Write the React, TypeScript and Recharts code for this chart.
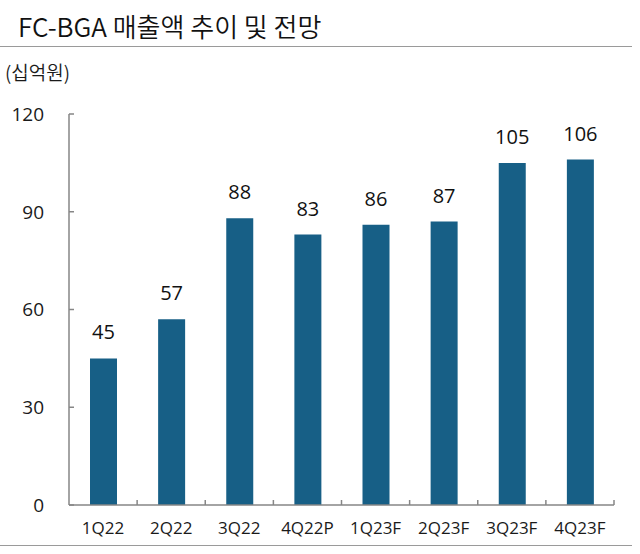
import React from 'react';
import { BarChart, Bar, XAxis, YAxis, LabelList } from 'recharts';

const categories = ['1Q22', '2Q22', '3Q22', '4Q22P', '1Q23F', '2Q23F', '3Q23F', '4Q23F'];
const sales = [45, 57, 88, 83, 86, 87, 105, 106];
const yTicks = [0, 30, 60, 90, 120];
const title = 'FC-BGA 매출액 추이 및 전망';
const unit = '(십억원)';

const data = categories.map((q, i) => ({ q, v: sales[i] }));

const FONT = '"Noto Sans CJK KR", "Noto Sans", sans-serif';
const NUM_FONT = '"Open Sans", "Noto Sans CJK KR", sans-serif';
const W = 640;
const H = 554;
const X_H = 49;
const M = { top: 114, right: 26, bottom: 0, left: 0 };
const Y_W = 69;
const AXIS_COLOR = '#868686';
const BAR_COLOR = '#175f86';
const halfBand = (W - M.left - M.right - Y_W) / categories.length / 2;

const YTick = (props: any) => {
  const { y, payload } = props;
  return (
    <g>
      <line x1={Y_W} x2={Y_W + 5} y1={y} y2={y} stroke={AXIS_COLOR} strokeWidth={1.5} />
      <text x={44} y={y} dy="0.36em" textAnchor="end" fontSize={19} fill="#1a1a1a" fontFamily={NUM_FONT}>
        {payload.value}
      </text>
    </g>
  );
};

const XTick = (props: any) => {
  const { x, payload } = props;
  const axisY = H - X_H;
  return (
    <g>
      <line x1={x + halfBand} x2={x + halfBand} y1={axisY} y2={axisY - 5} stroke={AXIS_COLOR} strokeWidth={1.5} />
      <text x={x} y={axisY + 29} textAnchor="middle" fontSize={17} fill="#1a1a1a" fontFamily={NUM_FONT}>
        {payload.value}
      </text>
    </g>
  );
};

export default function App() {
  return (
    <div style={{ position: 'absolute', left: 0, top: 0, width: W, height: H, background: '#fff', fontFamily: FONT }}>
      <div style={{ position: 'absolute', left: 18, top: 8, fontSize: 26, fontWeight: 350, color: '#111', whiteSpace: 'nowrap', lineHeight: '36px' }}>
        {title}
      </div>
      <div style={{ position: 'absolute', left: 0, top: 46, width: 632, height: 0, borderTop: '1.5px solid #9a9a9a' }} />
      <div style={{ position: 'absolute', left: 5, top: 59, fontSize: 19, fontWeight: 350, color: '#1a1a1a', whiteSpace: 'nowrap', lineHeight: '26px' }}>
        {unit}
      </div>
      <div style={{ position: 'absolute', left: 0, top: 545, width: 632, height: 0, borderTop: '1.5px solid #9a9a9a' }} />
      <div style={{ position: 'absolute', left: 0, top: 0 }}>
        <BarChart width={W} height={H} data={data} margin={M} barSize={27}>
          <YAxis
            width={Y_W}
            domain={[0, 120]}
            ticks={yTicks}
            interval={0}
            tickLine={false}
            axisLine={{ stroke: AXIS_COLOR, strokeWidth: 1.5 }}
            tick={<YTick />}
          />
          <XAxis
            dataKey="q"
            interval={0}
            tickLine={false}
            axisLine={{ stroke: AXIS_COLOR, strokeWidth: 1.5 }}
            tick={<XTick />}
            height={X_H}
          />
          <Bar dataKey="v" fill={BAR_COLOR} isAnimationActive={false}>
            <LabelList dataKey="v" position="top" offset={19} fontSize={20} fill="#111" fontFamily={NUM_FONT} />
          </Bar>
        </BarChart>
      </div>
    </div>
  );
}
